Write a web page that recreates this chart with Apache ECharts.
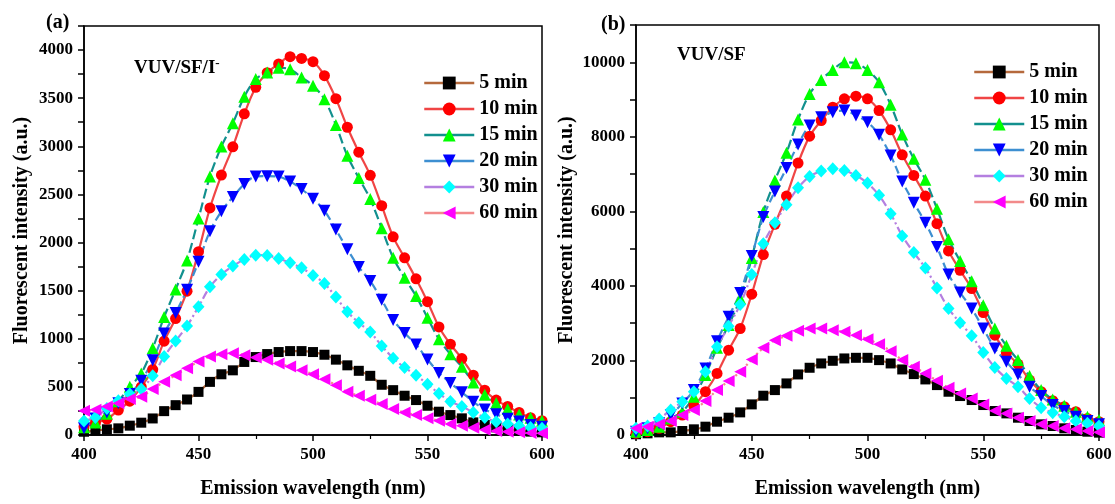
<!DOCTYPE html>
<html>
<head>
<meta charset="utf-8">
<script src="https://cdn.jsdelivr.net/npm/echarts@6/dist/echarts.min.js"></script>
<style>html,body{margin:0;padding:0;background:#fff;}#c{width:1115px;height:504px;}</style>
</head>
<body>
<div id="c"></div>
<script>
// Wavelengths (nm)
const wavelengths = [400,405,410,415,420,425,430,435,440,445,450,455,460,465,470,475,480,485,490,495,500,505,510,515,520,525,530,535,540,545,550,555,560,565,570,575,580,585,590,595,600];
const seriesNames = ['5 min','10 min','15 min','20 min','30 min','60 min'];

// Panel (a): VUV/SF/I-
const a5  = [34,45,59,69,97,128,172,248,310,369,448,552,631,672,759,810,841,862,872,872,862,834,783,724,667,615,522,466,408,363,304,242,207,173,131,104,79,62,45,35,28];
const a10 = [86,128,165,259,352,500,680,975,1210,1495,1905,2359,2701,2995,3337,3613,3765,3855,3931,3913,3879,3734,3495,3198,2939,2698,2383,2059,1841,1623,1385,1123,943,794,622,466,363,297,235,180,149];
const a15 = [80,130,220,350,501,639,901,1226,1513,1813,2249,2687,2998,3240,3516,3699,3768,3817,3800,3716,3630,3489,3222,2901,2670,2452,2148,1841,1634,1444,1219,995,839,708,546,418,332,269,214,180,149];
const a20 = [69,172,235,331,425,563,777,1055,1268,1510,1800,2117,2325,2473,2608,2687,2690,2685,2635,2556,2456,2331,2135,1930,1745,1600,1405,1195,1060,940,785,645,540,445,345,265,215,170,140,105,85];
const a30 = [145,183,276,356,425,477,615,815,977,1133,1333,1540,1668,1755,1824,1869,1865,1834,1789,1737,1658,1575,1433,1281,1167,1071,926,798,701,622,528,432,349,297,235,183,138,114,97,79,69];
const a60 = [252,262,297,331,373,397,477,553,622,694,763,815,839,850,829,805,781,743,712,674,632,580,518,449,408,366,321,269,235,207,173,149,114,97,76,55,41,35,28,21,17];

// Panel (b): VUV/SF
const b5  = [20,45,71,71,107,152,223,357,464,607,821,1054,1205,1384,1625,1804,1920,1991,2054,2071,2071,2009,1920,1759,1634,1491,1339,1161,1045,938,804,643,580,464,375,286,241,179,134,89,63];
const b10 = [45,89,179,357,536,786,1161,1652,2277,2857,3777,4840,5652,6411,7295,8018,8438,8795,9018,9090,9018,8706,8188,7518,6964,6411,5670,4938,4420,3929,3286,2679,2205,1902,1473,1161,920,759,625,446,357];
const b15 = [89,134,223,446,625,1027,1607,2339,2950,3661,4750,5982,6831,7572,8465,9152,9527,9795,10000,9973,9795,9465,8858,8063,7411,6849,6072,5250,4670,4125,3482,2857,2393,2009,1580,1205,955,786,625,491,402];
const b20 = [89,179,313,536,848,1205,1786,2518,3170,3813,4804,5848,6536,7161,7795,8304,8527,8661,8706,8572,8393,8054,7500,6804,6232,5697,5045,4304,3822,3393,2857,2322,1964,1625,1295,1045,804,643,491,375,286];
const b30 = [179,241,429,670,893,1161,1696,2366,2920,3500,4304,5134,5697,6179,6634,6938,7081,7143,7099,6964,6759,6429,5938,5340,4893,4482,3947,3393,3009,2661,2214,1813,1518,1295,982,732,598,491,375,313,241];
const b60 = [179,223,286,375,536,670,911,1205,1447,1696,2027,2339,2545,2661,2795,2857,2857,2813,2768,2679,2572,2438,2250,2009,1830,1652,1455,1268,1116,982,821,652,580,464,375,286,241,179,152,107,71];

const panelA = [a5,a10,a15,a20,a30,a60];
const panelB = [b5,b10,b15,b20,b30,b60];

const styles = [
  {line:'#b5693c', marker:'#000000', symbol:'rect',     size:10, rotate:0,   type:'solid'},
  {line:'#f04545', marker:'#ff0000', symbol:'circle',   size:11, rotate:0,   type:'solid'},
  {line:'#12908e', marker:'#00ff00', symbol:'triangle', size:12, rotate:0,   type:[10,4]},
  {line:'#3d8fd1', marker:'#0000ff', symbol:'triangle', size:12, rotate:180, type:[8,4]},
  {line:'#b47fe0', marker:'#00ffff', symbol:'diamond',  size:[12,13], rotate:0, type:[8,3,2,3]},
  {line:'#f28a8a', marker:'#ff00ff', symbol:'triangle', size:12, rotate:90,  type:[2,3]}
];

const FF = "'Liberation Serif','Times New Roman',serif";

function mkSeries(vals, idx) {
  return vals.map((arr, i) => ({
    name: seriesNames[i],
    type: 'line',
    xAxisIndex: idx, yAxisIndex: idx,
    data: wavelengths.map((w, k) => [w, arr[k]]),
    symbol: styles[i].symbol,
    symbolSize: styles[i].size,
    symbolRotate: styles[i].rotate,
    showAllSymbol: true,
    smooth: 0.3,
    lineStyle: {color: styles[i].line, width: 2.2, type: styles[i].type},
    itemStyle: {color: styles[i].marker, borderWidth: 0},
    emphasis: {disabled: true},
    clip: true
  }));
}

function xAx(gi) {
  return {
    type:'value', gridIndex: gi, min:400, max:600, interval:50,
    name:'Emission wavelength (nm)', nameLocation:'middle', nameGap:44,
    nameTextStyle:{fontFamily:FF, fontWeight:'bold', fontSize:20, color:'#000'},
    axisLine:{show:true, onZero:false, lineStyle:{color:'#000', width:1.5}},
    axisTick:{show:true, inside:false, length:6, lineStyle:{color:'#000', width:1.5}},
    minorTick:{show:true, splitNumber:2, length:4, lineStyle:{color:'#000', width:1.2}},
    axisLabel:{fontFamily:FF, fontWeight:'bold', fontSize:17, color:'#000', margin:11},
    splitLine:{show:false}
  };
}
function yAx(gi, max, interval, gap) {
  return {
    type:'value', gridIndex: gi, min:0, max:max, interval:interval/2,
    name:'Fluorescent intensity (a.u.)', nameLocation:'middle', nameGap:gap, nameRotate:90,
    nameTextStyle:{fontFamily:FF, fontWeight:'bold', fontSize:20, color:'#000'},
    axisLine:{show:true, lineStyle:{color:'#000', width:1.5}},
    axisTick:{show:true, inside:false, length:6, lineStyle:{color:'#000', width:1.5}},
    axisLabel:{fontFamily:FF, fontWeight:'bold', fontSize:17, color:'#000', margin:11,
      formatter: v => (v % interval === 0 ? String(v) : '')},
    splitLine:{show:false}
  };
}

function legend(left, top) {
  return {
    orient:'vertical', left:left, top:top, data: seriesNames,
    itemWidth:50, itemHeight:16, itemGap:6, itemSymbolRotate:'inherit',
    lineStyle:{type:'solid', width:2.5},
    textStyle:{fontFamily:FF, fontWeight:'bold', fontSize:20, color:'#000', lineHeight:20},
    selectedMode:false
  };
}

const chart = echarts.init(document.getElementById('c'), null, {renderer:'canvas'});
chart.setOption({
  animation:false,
  backgroundColor:'#fff',
  grid:[
    {left:84, right:573, top:26, bottom:68, show:true, borderColor:'#000', borderWidth:1.5, containLabel:false},
    {left:636, right:16, top:25, bottom:68, show:true, borderColor:'#000', borderWidth:1.5, containLabel:false}
  ],
  xAxis:[xAx(0), xAx(1)],
  yAxis:[yAx(0, 4250, 500, 52), yAx(1, 11000, 2000, 59)],
  legend:[legend(418, 68), legend(968, 57)],
  series: mkSeries(panelA, 0).concat(mkSeries(panelB, 1)),
  graphic:[
    {type:'text', left:46, top:13, style:{text:'(a)', fontFamily:FF, fontWeight:'bold', fontSize:20, fill:'#000'}},
    {type:'text', left:601, top:15, style:{text:'(b)', fontFamily:FF, fontWeight:'bold', fontSize:20, fill:'#000'}},
    {type:'text', left:134, top:57, style:{text:'{m|VUV/SF/I}{s|-}', fill:'#000',
      rich:{m:{fontFamily:FF, fontWeight:'bold', fontSize:19, lineHeight:22, fill:'#000'},
            s:{fontFamily:FF, fontWeight:'bold', fontSize:13, lineHeight:13, verticalAlign:'top', fill:'#000'}}}},
    {type:'text', left:677, top:46, style:{text:'VUV/SF', fontFamily:FF, fontWeight:'bold', fontSize:19, fill:'#000'}}
  ]
});
</script>
</body>
</html>
